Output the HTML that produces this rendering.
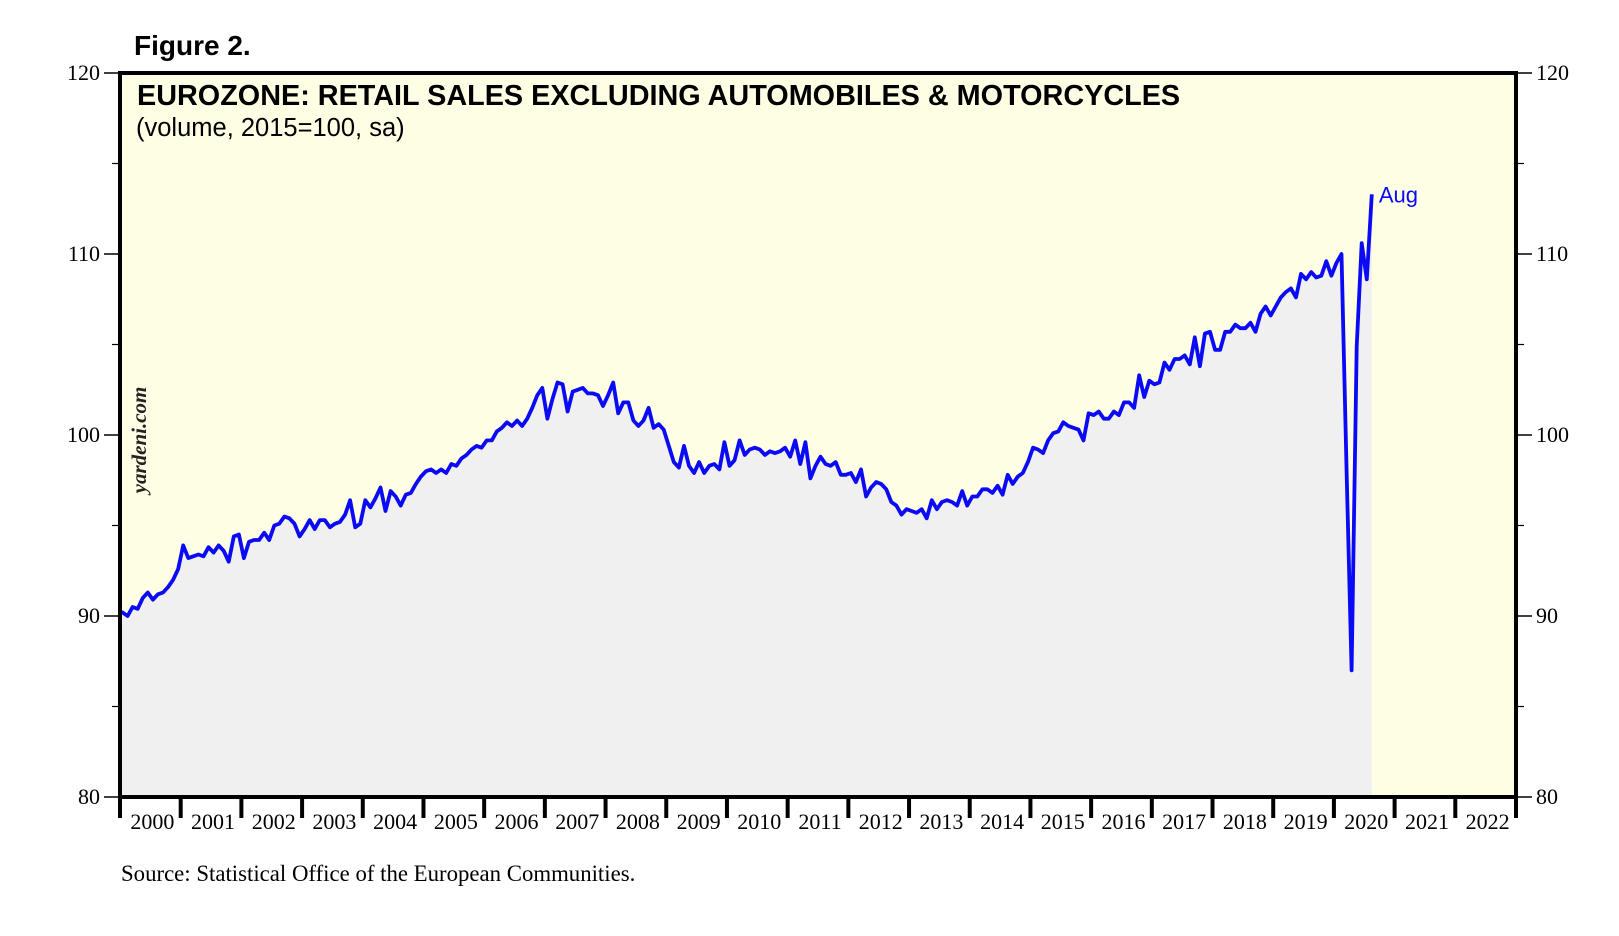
<!DOCTYPE html>
<html><head><meta charset="utf-8"><style>
body{margin:0;background:#fff;}
svg{display:block;}
</style></head><body>
<svg id="chart" width="1619" height="936" viewBox="0 0 1619 936" xmlns="http://www.w3.org/2000/svg">
<rect x="0" y="0" width="1619" height="936" fill="#fff"/>
<text x="134" y="55" font-family="Liberation Sans, sans-serif" font-weight="bold" font-size="28" fill="#000">Figure 2.</text>
<rect x="120" y="73" width="1396" height="724" fill="#fefee4"/>
<g id="fills"></g>
<g id="series"></g>
<rect x="120" y="73" width="1396" height="724" fill="none" stroke="#000" stroke-width="4"/>
<text x="137" y="105" font-family="Liberation Sans, sans-serif" font-weight="bold" font-size="28.8" fill="#000">EUROZONE: RETAIL SALES EXCLUDING AUTOMOBILES &amp; MOTORCYCLES</text>
<text x="136" y="136" font-family="Liberation Sans, sans-serif" font-size="25.5" fill="#000">(volume, 2015=100, sa)</text>
<text transform="translate(146,440) rotate(-90)" text-anchor="middle" font-family="Liberation Serif, serif" font-style="italic" font-weight="bold" font-size="21" fill="#222">yardeni.com</text>
<g id="axes"></g>
<text x="121" y="881" font-family="Liberation Serif, serif" font-size="22.8" fill="#000">Source: Statistical Office of the European Communities.</text>
</svg>
<script>
const yTicks=[80,90,100,110,120];
const yMinor=[85,95,105,115];
const years=[2000,2001,2002,2003,2004,2005,2006,2007,2008,2009,2010,2011,2012,2013,2014,2015,2016,2017,2018,2019,2020,2021,2022];
const startYear=2000;
const sales=[
90.2,90.0,90.5,90.4,91.0,91.3,90.9,91.2,91.3,91.6,92.0,92.6,
93.9,93.2,93.3,93.4,93.3,93.8,93.5,93.9,93.6,93.0,94.4,94.5,
93.2,94.1,94.2,94.2,94.6,94.2,95.0,95.1,95.5,95.4,95.1,94.4,
94.8,95.3,94.8,95.3,95.3,94.9,95.1,95.2,95.6,96.4,94.9,95.1,
96.4,96.0,96.5,97.1,95.8,96.9,96.6,96.1,96.7,96.8,97.3,97.7,
98.0,98.1,97.9,98.1,97.9,98.4,98.3,98.7,98.9,99.2,99.4,99.3,
99.7,99.7,100.2,100.4,100.7,100.5,100.8,100.5,100.9,101.5,102.2,102.6,
100.9,102.0,102.9,102.8,101.3,102.4,102.5,102.6,102.3,102.3,102.2,101.6,
102.2,102.9,101.2,101.8,101.8,100.8,100.5,100.8,101.5,100.4,100.6,100.3,
99.4,98.5,98.2,99.4,98.3,97.9,98.5,97.9,98.3,98.4,98.1,99.6,
98.3,98.6,99.7,98.9,99.2,99.3,99.2,98.9,99.1,99.0,99.1,99.3,
98.8,99.7,98.4,99.6,97.6,98.3,98.8,98.4,98.3,98.5,97.8,97.8,
97.9,97.4,98.1,96.6,97.1,97.4,97.3,97.0,96.3,96.1,95.6,95.9,
95.8,95.7,95.9,95.4,96.4,95.9,96.3,96.4,96.3,96.1,96.9,96.1,
96.6,96.6,97.0,97.0,96.8,97.2,96.7,97.8,97.3,97.7,97.9,98.5,
99.3,99.2,99.0,99.7,100.1,100.2,100.7,100.5,100.4,100.3,99.7,101.2,
101.1,101.3,100.9,100.9,101.3,101.1,101.8,101.8,101.5,103.3,102.1,103.0,
102.8,102.9,104.0,103.6,104.2,104.2,104.4,103.9,105.4,103.8,105.6,105.7,
104.7,104.7,105.7,105.7,106.1,105.9,105.9,106.2,105.7,106.7,107.1,106.6,
107.1,107.6,107.9,108.1,107.6,108.9,108.6,109.0,108.7,108.8,109.6,108.8,
109.5,110.0,98.0,87.0,104.9,110.6,108.6,113.3];
const lastLabel="Aug";

const L=120,R=1516,T=73,B=797,yMin=80,yMax=120,nYears=23;
const NS="http://www.w3.org/2000/svg";
function xs(i){return L+(i+0.5)/12*((R-L)/nYears);}
function xYear(y){return L+(y-startYear)*(R-L)/nYears;}
function ys(v){return B-(v-yMin)/(yMax-yMin)*(B-T);}
function mk(tag,attrs,parent){const e=document.createElementNS(NS,tag);for(const k in attrs)e.setAttribute(k,attrs[k]);parent.appendChild(e);return e;}

const fills=document.getElementById('fills'),series=document.getElementById('series'),axes=document.getElementById('axes');
let d="M"+L+","+B+" L"+L+","+ys(sales[0]).toFixed(1);
sales.forEach((v,i)=>{d+=" L"+xs(i).toFixed(1)+","+ys(v).toFixed(1);});
d+=" L"+xs(sales.length-1).toFixed(1)+","+B+" Z";
const area=mk('path',{d:d,fill:'#f0f0f0'},fills);


let ld="M"+L+","+ys(sales[0]).toFixed(1);
sales.forEach((v,i)=>{ld+=" L"+xs(i).toFixed(1)+","+ys(v).toFixed(1);});
const line=mk('path',{d:ld,fill:'none',stroke:'#0a0af5','stroke-width':3.8,'stroke-linejoin':'round'},series);


const lbl=mk('text',{x:xs(sales.length-1)+7,y:ys(sales[sales.length-1])+8,'font-family':'Liberation Sans, sans-serif','font-size':22,fill:'#0a0af5'},series);
lbl.textContent=lastLabel;



yTicks.forEach(v=>{
  const y=ys(v);
  const t1=mk('line',{x1:L-16,x2:L,y1:y,y2:y,stroke:'#000','stroke-width':1.5},axes);
  
  
  const t2=mk('line',{x1:R,x2:R+16,y1:y,y2:y,stroke:'#000','stroke-width':1.5},axes);
  
  
  const a=mk('text',{x:L-20,y:y+7,'text-anchor':'end','font-family':'Liberation Serif, serif','font-size':22},axes);
  a.textContent=v;
  
  
  const b=mk('text',{x:R+20,y:y+7,'font-family':'Liberation Serif, serif','font-size':22},axes);
  b.textContent=v;
  
  
});
yMinor.forEach(v=>{
  const y=ys(v);
  const t1=mk('line',{x1:L-8,x2:L,y1:y,y2:y,stroke:'#000','stroke-width':1.2},axes);
  
  
  const t2=mk('line',{x1:R,x2:R+8,y1:y,y2:y,stroke:'#000','stroke-width':1.2},axes);
  
  
});
for(let k=0;k<=nYears;k++){
  const x=xYear(startYear+k);
  const t=mk('line',{x1:x,x2:x,y1:B,y2:B+21,stroke:'#000','stroke-width':4},axes);
  
  
}
years.forEach(yr=>{
  const x=xYear(yr)+(R-L)/nYears/2+2;
  const t=mk('text',{x:x,y:B+32,'text-anchor':'middle','font-family':'Liberation Serif, serif','font-size':22},axes);
  t.textContent=yr;
  
  
});
</script>
</body></html>
